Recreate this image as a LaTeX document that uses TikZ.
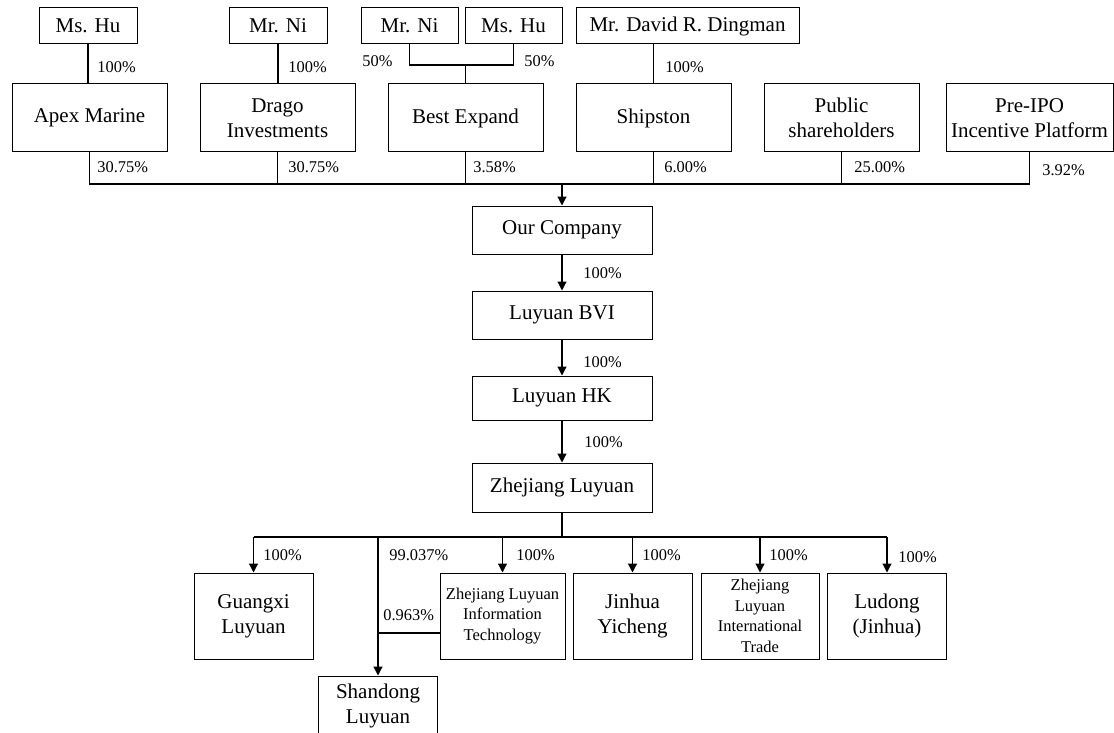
\documentclass[tikz,border=0pt]{standalone}
\usepackage{fontspec}
\setmainfont{Liberation Serif}
\usetikzlibrary{arrows.meta}
\tikzset{
	firm/.style={draw, line width=0.5pt, align=center, inner sep=0pt, font=\fontsize{10.5}{12.5}\selectfont},
	smallfirm/.style={firm, font=\fontsize{8.25}{10.3}\selectfont},
	person/.style={firm, minimum width=49pt, minimum height=18pt},
	holder/.style={firm, minimum width=77.5pt, minimum height=34pt},
	chain/.style={firm, minimum width=90pt, minimum height=24pt},
	sub/.style={firm, minimum width=59.5pt, minimum height=43pt},
	pct/.style={anchor=west, inner sep=0pt, font=\fontsize{8.2}{10}\selectfont},
	own/.style={line width=0.6pt},
	arr/.style={own, -{Triangle[length=4.5pt, width=4.5pt]}}
}

\begin{document}
\begin{tikzpicture}[x=0.5pt, y=-0.5pt]
	\clip (0,0) rectangle (1114,733);

	\node[person] (hu1) at (88,26) {Ms. Hu};
	\node[person] (ni1) at (278,26) {Mr. Ni};
	\node[person, minimum width=48.5pt] (ni2) at (409.5,26) {Mr. Ni};
	\node[person, minimum width=48.5pt] (hu2) at (513.5,26) {Ms. Hu};
	\node[person, minimum width=111.5pt] (ding) at (687.5,26) {Mr. David R. Dingman};

	\node[holder] (apex) at (89.5,118) {Apex Marine};
	\node[holder] (drago) at (277.5,118) {Drago\\Investments};
	\node[holder] (best) at (465.5,118) {Best Expand};
	\node[holder] (ship) at (653.5,118) {Shipston};
	\node[holder] (pub) at (841.5,118) {Public\\shareholders};
	\node[holder, minimum width=83.5pt] (pre) at (1029.5,118) {Pre-IPO\\Incentive Platform};

	\node[chain] (ourco) at (562,230) {Our Company};
	\node[chain] (bvi) at (562,315) {Luyuan BVI};
	\node[chain, minimum height=22pt] (hk) at (562,398) {Luyuan HK};
	\node[chain, minimum height=24.5pt] (zj) at (562,487.5) {Zhejiang Luyuan};

	\node[sub] (gx) at (253.5,616) {Guangxi\\Luyuan};
	\node[sub, smallfirm, minimum width=62.5pt] (it) at (502.5,616) {Zhejiang Luyuan\\Information\\Technology};
	\node[sub] (jy) at (632.5,616) {Jinhua\\Yicheng};
	\node[sub, smallfirm, minimum width=59pt] (tr) at (760,616) {Zhejiang\\Luyuan\\International\\Trade};
	\node[sub] (ld) at (887,616) {Ludong\\(Jinhua)};
	\node[sub, minimum height=30pt] (sd) at (378,706) {Shandong\\Luyuan};

	\coordinate (pair) at (0,65);
	\coordinate (bus) at (0,184);
	\coordinate (sbus) at (0,537);

	\draw[own] (hu1.south) -- (hu1.south |- apex.north);
	\draw[own] (ni1.south) -- (ni1.south |- drago.north);
	\draw[own] (ni2.south) |- (hu2.south |- pair) -- (hu2.south);
	\draw[own] (best.north |- pair) -- (best.north);
	\draw[own] (ship.north |- ding.south) -- (ship.north);

	\draw[own] (apex.south) -- (apex.south |- bus) -- (pre.south |- bus) -- (pre.south);
	\draw[own] (drago.south) -- (drago.south |- bus);
	\draw[own] (best.south) -- (best.south |- bus);
	\draw[own] (ship.south) -- (ship.south |- bus);
	\draw[own] (pub.south) -- (pub.south |- bus);
	\draw[arr] (ourco.north |- bus) -- (ourco.north);

	\draw[arr] (ourco) -- (bvi);
	\draw[arr] (bvi) -- (hk);
	\draw[arr] (hk) -- (zj);

	\draw[own] (zj.south) -- (zj.south |- sbus);
	\draw[own] (gx.north |- sbus) -- (ld.north |- sbus);
	\draw[arr] (gx.north |- sbus) -- (gx.north);
	\draw[arr] (sd.north |- sbus) -- (sd.north);
	\draw[arr] (it.north |- sbus) -- (it.north);
	\draw[arr] (jy.north |- sbus) -- (jy.north);
	\draw[arr] (tr.north |- sbus) -- (tr.north);
	\draw[arr] (ld.north |- sbus) -- (ld.north);
	\draw[own] ([yshift=-8.5pt]it.west) -- ([yshift=-8.5pt]it.west -| sd.north);

	\node[pct] (p1) at (97,67) {100\%};
	\node[pct] (p2) at (288,67) {100\%};
	\node[pct] (p3) at (362,61) {50\%};
	\node[pct] (p4) at (524,61) {50\%};
	\node[pct] (p5) at (665,67) {100\%};
	\node[pct] (p6) at (97,167) {30.75\%};
	\node[pct] (p7) at (288,167) {30.75\%};
	\node[pct] (p8) at (473,167) {3.58\%};
	\node[pct] (p9) at (664,167) {6.00\%};
	\node[pct] (p10) at (854,167) {25.00\%};
	\node[pct] (p11) at (1042,170) {3.92\%};
	\node[pct] (p12) at (583,273) {100\%};
	\node[pct] (p13) at (583,362) {100\%};
	\node[pct] (p14) at (584,442) {100\%};
	\node[pct] (p15) at (263,555) {100\%};
	\node[pct] (p16) at (389,555) {99.037\%};
	\node[pct] (p17) at (383,615) {0.963\%};
	\node[pct] (p18) at (516,555) {100\%};
	\node[pct] (p19) at (642,555) {100\%};
	\node[pct] (p20) at (769,555) {100\%};
	\node[pct] (p21) at (898,557) {100\%};
\end{tikzpicture}
\end{document}
